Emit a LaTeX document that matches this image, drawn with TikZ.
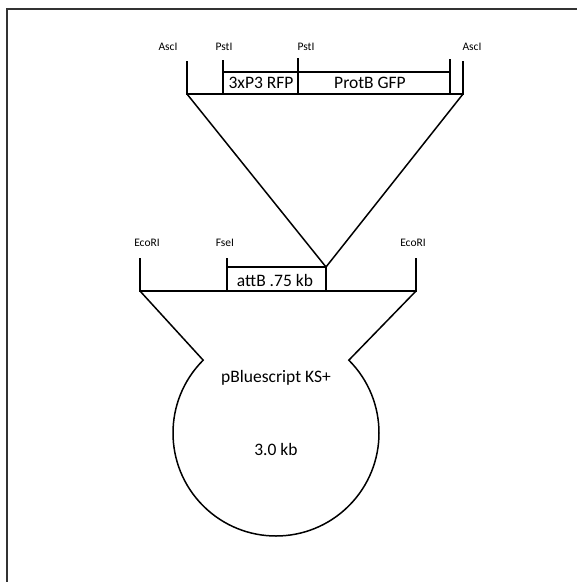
\documentclass[tikz,border=0pt]{standalone}
\usepackage{fontspec}
\setmainfont{Carlito}
\begin{document}
\begin{tikzpicture}[
    x=1pt, y=-1pt,
    dna/.style={line width=1.5pt, black},
    frame/.style={line width=1.6pt, black!80},
    site/.style={font=\fontsize{11.5}{13}\selectfont, inner sep=0pt},
    part/.style={font=\fontsize{17.5}{20}\selectfont, inner sep=0pt}
]
\useasboundingbox (0,0) rectangle (577,582);
\draw[frame] (7,582) -- (7,9) -- (577,9);

% insert fragment
\coordinate (ascL) at (187,94);
\coordinate (pstA) at (223,94);
\coordinate (pstB) at (298,94);
\coordinate (gfpEnd) at (450,94);
\coordinate (ascR) at (463,94);
\draw[dna] (ascL) ++(0,-33) -- (ascL) -- (ascR) -- ++(0,-33);
\draw[dna] (pstA) -- ++(0,-34);
\draw[dna] (pstB) -- ++(0,-36);
\draw[dna] (gfpEnd) -- ++(0,-35);
\draw[dna] (pstA) ++(0,-22) -- ++(227,0);
\node[site] (ascLlab) at (168,47) {AscI};
\node[site] (pstAlab) at (224,47) {PstI};
\node[site] (pstBlab) at (306,47) {PstI};
\node[site] (ascRlab) at (472,47) {AscI};
\node[part] (rfp) at (261,83) {3xP3 RFP};
\node[part] (gfp) at (370,83) {ProtB GFP};

% attB fragment
\coordinate (ecoL) at (140,291);
\coordinate (fse) at (227,291);
\coordinate (attEnd) at (326,291);
\coordinate (ecoR) at (416,291);
\draw[dna] (ecoL) ++(0,-33) -- (ecoL) -- (ecoR) -- ++(0,-33);
\draw[dna] (fse) -- ++(0,-33);
\draw[dna] (fse) ++(0,-24) -- ++(99,0) coordinate (apex) -- (attEnd);
\draw[dna] (ascL) -- (apex) -- (ascR);
\node[site] (ecoLlab) at (147,243) {EcoRI};
\node[site] (fselab) at (225,243) {FseI};
\node[site] (ecoRlab) at (413,243) {EcoRI};
\node[part] (attB) at (275,280) {attB .75 kb};

% vector backbone
\coordinate (ori) at (276,433);
\path (ori) ++(-135:103) coordinate (notchL);
\path (ori) ++(-45:103) coordinate (notchR);
\draw[dna] (ecoR) -- (notchR) arc[start angle=-45, end angle=225, radius=103] -- (ecoL);
\node[part] (vec) at (276,378) {pBluescript KS+};
\node[part] (size) at (276,449) {3.0 kb};
\end{tikzpicture}
\end{document}
